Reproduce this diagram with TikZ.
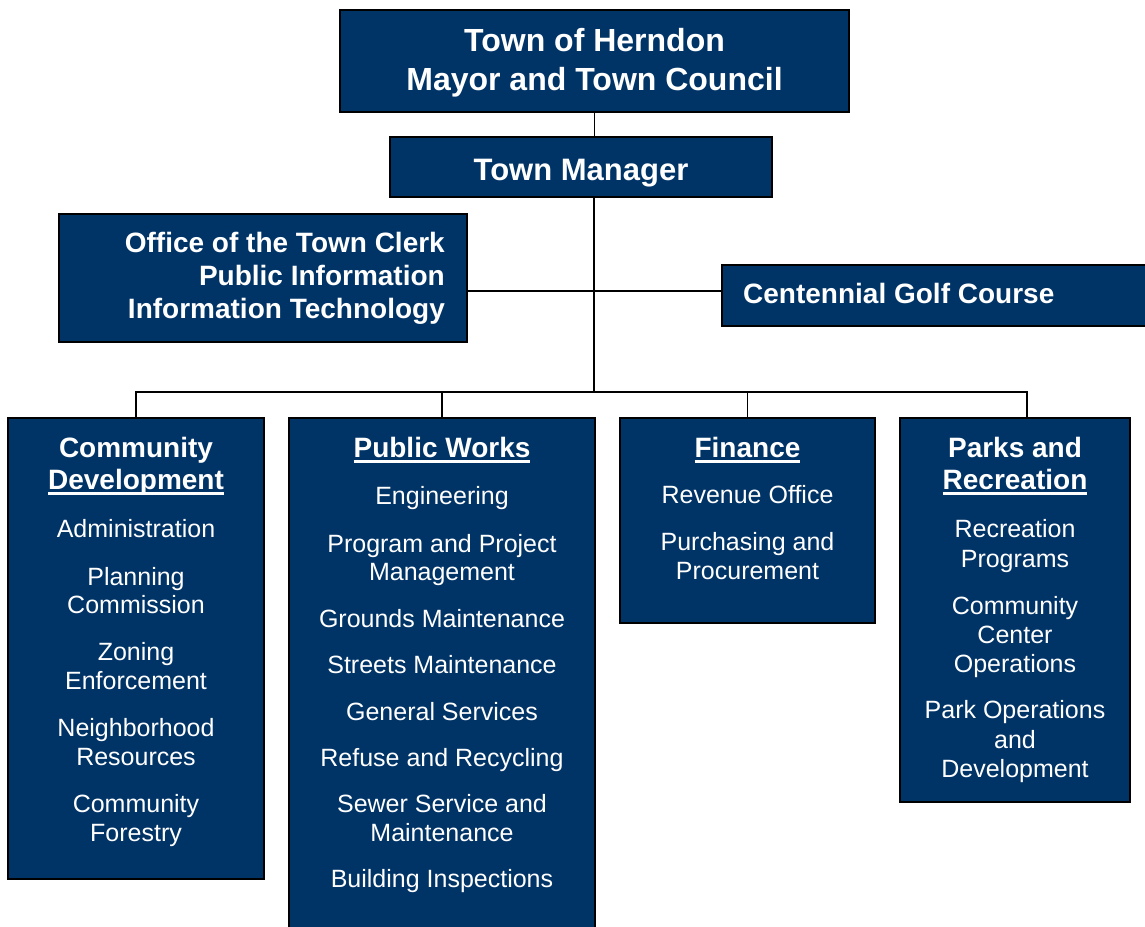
\documentclass[tikz,border=0pt]{standalone}
\usepackage{fontspec}
\setmainfont{Liberation Sans}
\usepackage{tikz}
\usetikzlibrary{positioning, calc}

\definecolor{hnavy}{HTML}{003366}

% underlined heading, thick bar like the print version
\newsavebox\hdbox
\newcommand{\ulhd}[1]{\sbox\hdbox{#1}\rlap{\usebox\hdbox}\rule[-6pt]{\wd\hdbox}{3pt}}

\begin{document}
\begin{tikzpicture}[x=1pt, y=-1pt,
  unit/.style={draw=black, line width=1.6pt, fill=hnavy, inner sep=0pt},
  ttl/.style={text=white, inner sep=0pt, font=\bfseries\fontsize{32}{40}\selectfont, anchor=base},
  hd/.style={text=white, inner sep=0pt, font=\bfseries\fontsize{28}{32}\selectfont, anchor=base},
  itm/.style={text=white, inner sep=0pt, font=\fontsize{25}{29}\selectfont, anchor=base},
  link/.style={draw=black, line width=1.6pt}]

  \clip (0,0) rectangle (1145,926);

  % boxes
  \node[unit, minimum width=509pt, minimum height=102pt] (council) at (594.5,61) {};
  \node[unit, minimum width=382pt, minimum height=60pt] (manager) at (581,167) {};
  \node[unit, minimum width=408pt, minimum height=128pt] (clerk) at (263,278) {};
  \node[unit, minimum width=438pt, minimum height=61pt] (golf) at (941,295.5) {};
  \node[unit, minimum width=256pt, minimum height=461pt] (cd) at (136,648.5) {};
  \node[unit, minimum width=306pt, minimum height=522pt] (pw) at (442,679) {};
  \node[unit, minimum width=255pt, minimum height=205pt] (fin) at (747.5,520.5) {};
  \node[unit, minimum width=230pt, minimum height=384pt] (pr) at (1015,610) {};

  \coordinate (hub) at (594,291);
  \coordinate (bus) at (594,392);
  \coordinate (prtap) at (1027,418);

  % reporting lines
  \draw[link] (council.south) -- (council.south |- manager.north);
  \draw[link] (manager.south -| bus) -- (bus);
  \draw[link] (clerk.east |- hub) -- (golf.west |- hub);
  \draw[link] (cd.north) |- (prtap |- bus) -- (prtap);
  \draw[link] (pw.north) -- (pw.north |- bus);
  \draw[link] (fin.north) -- (fin.north |- bus);

  % top of the chart
  \node[ttl] (council1) at (594.5,51) {Town of Herndon};
  \node[ttl] (council2) at (594.5,90) {Mayor and Town Council};
  \node[ttl, font=\bfseries\fontsize{31}{36}\selectfont] (manager1) at (581,180) {Town Manager};

  \node[hd, anchor=base east] (clerk1) at (445,252) {Office of the Town Clerk};
  \node[hd, anchor=base east] (clerk2) at (445,285) {Public Information};
  \node[hd, anchor=base east] (clerk3) at (445,318) {Information Technology};
  \node[hd, anchor=base west] (golf1) at (743,303) {Centennial Golf Course};

  % department headings
  \node[hd] (cdh1) at (136,457) {Community};
  \node[hd] (cdh2) at (136,489) {\ulhd{Development}};
  \node[hd] (pwh) at (442,457) {\ulhd{Public Works}};
  \node[hd] (finh) at (747.5,457) {\ulhd{Finance}};
  \node[hd] (prh1) at (1015,457) {Parks and};
  \node[hd] (prh2) at (1015,489) {\ulhd{Recreation}};

  % divisions
  \foreach \txt/\yy [count=\i] in {Administration/537, Planning/585, Commission/613,
      Zoning/660, Enforcement/689, Neighborhood/736, Resources/765,
      Community/812, Forestry/841}
    \node[itm] (cd\i) at (136,\yy) {\txt};

  \foreach \txt/\yy [count=\i] in {Engineering/504, Program and Project/552,
      Management/580, Grounds Maintenance/627, Streets Maintenance/673,
      General Services/720, Refuse and Recycling/766, Sewer Service and/812,
      Maintenance/841, Building Inspections/887}
    \node[itm] (pw\i) at (442,\yy) {\txt};

  \foreach \txt/\yy [count=\i] in {Revenue Office/503, Purchasing and/550,
      Procurement/579}
    \node[itm] (fin\i) at (747.5,\yy) {\txt};

  \foreach \txt/\yy [count=\i] in {Recreation/537, Programs/567, Community/614,
      Center/643, Operations/672, Park Operations/718, and/748, Development/777}
    \node[itm] (pr\i) at (1015,\yy) {\txt};

\end{tikzpicture}
\end{document}
